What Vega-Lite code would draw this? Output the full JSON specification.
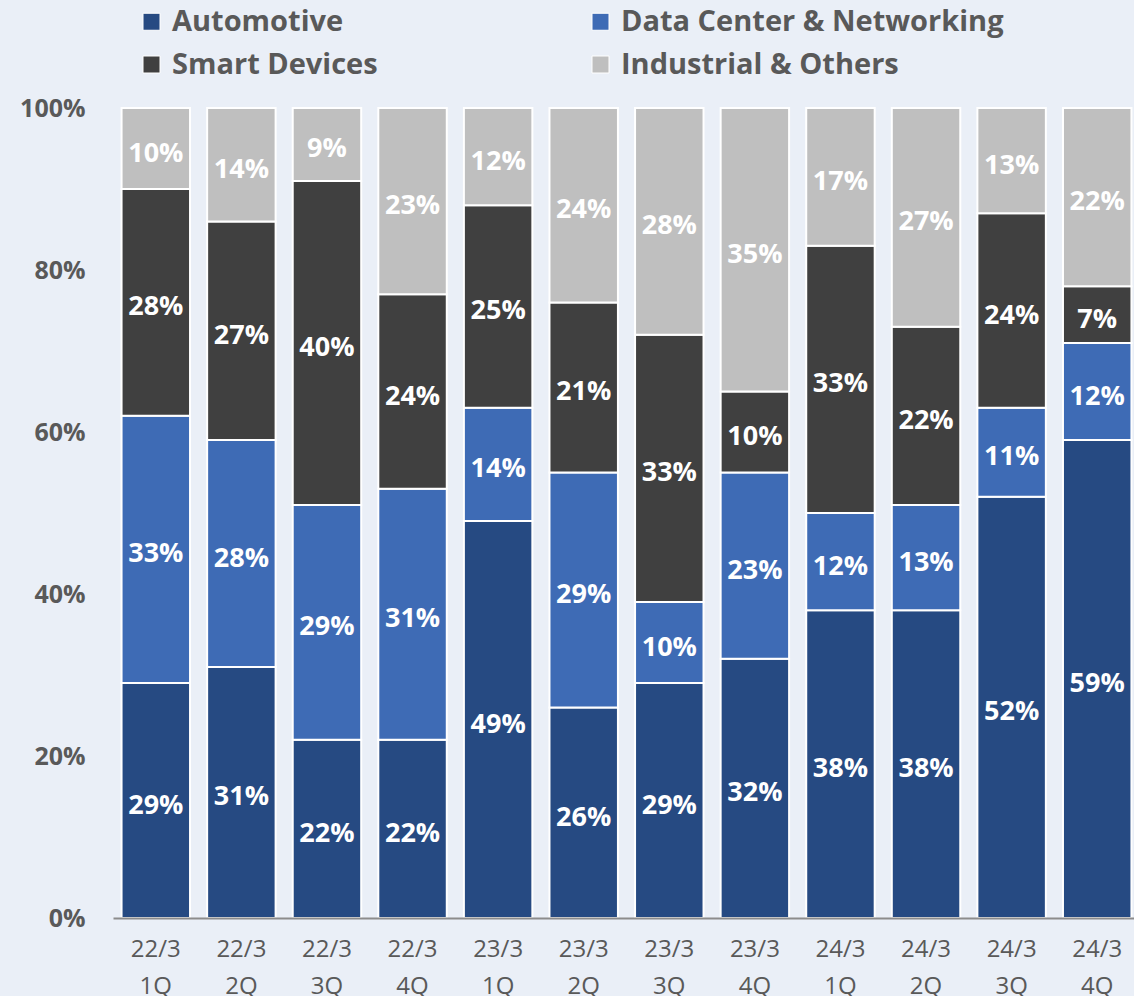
{
  "$schema": "https://vega.github.io/schema/vega-lite/v6.json",
  "width": 1027,
  "height": 810,
  "autosize": {"type": "none"},
  "padding": {"left": 113, "top": 108, "right": 0, "bottom": 78},
  "background": "#eaeff7",
  "config": {"view": {"stroke": null}, "font": "Open Sans"},
  "data": {
    "values": [
      {"quarter": "22/3 1Q", "segment": "Automotive", "share": 0.29},
      {"quarter": "22/3 1Q", "segment": "Data Center & Networking", "share": 0.33},
      {"quarter": "22/3 1Q", "segment": "Smart Devices", "share": 0.28},
      {"quarter": "22/3 1Q", "segment": "Industrial & Others", "share": 0.10},
      {"quarter": "22/3 2Q", "segment": "Automotive", "share": 0.31},
      {"quarter": "22/3 2Q", "segment": "Data Center & Networking", "share": 0.28},
      {"quarter": "22/3 2Q", "segment": "Smart Devices", "share": 0.27},
      {"quarter": "22/3 2Q", "segment": "Industrial & Others", "share": 0.14},
      {"quarter": "22/3 3Q", "segment": "Automotive", "share": 0.22},
      {"quarter": "22/3 3Q", "segment": "Data Center & Networking", "share": 0.29},
      {"quarter": "22/3 3Q", "segment": "Smart Devices", "share": 0.40},
      {"quarter": "22/3 3Q", "segment": "Industrial & Others", "share": 0.09},
      {"quarter": "22/3 4Q", "segment": "Automotive", "share": 0.22},
      {"quarter": "22/3 4Q", "segment": "Data Center & Networking", "share": 0.31},
      {"quarter": "22/3 4Q", "segment": "Smart Devices", "share": 0.24},
      {"quarter": "22/3 4Q", "segment": "Industrial & Others", "share": 0.23},
      {"quarter": "23/3 1Q", "segment": "Automotive", "share": 0.49},
      {"quarter": "23/3 1Q", "segment": "Data Center & Networking", "share": 0.14},
      {"quarter": "23/3 1Q", "segment": "Smart Devices", "share": 0.25},
      {"quarter": "23/3 1Q", "segment": "Industrial & Others", "share": 0.12},
      {"quarter": "23/3 2Q", "segment": "Automotive", "share": 0.26},
      {"quarter": "23/3 2Q", "segment": "Data Center & Networking", "share": 0.29},
      {"quarter": "23/3 2Q", "segment": "Smart Devices", "share": 0.21},
      {"quarter": "23/3 2Q", "segment": "Industrial & Others", "share": 0.24},
      {"quarter": "23/3 3Q", "segment": "Automotive", "share": 0.29},
      {"quarter": "23/3 3Q", "segment": "Data Center & Networking", "share": 0.10},
      {"quarter": "23/3 3Q", "segment": "Smart Devices", "share": 0.33},
      {"quarter": "23/3 3Q", "segment": "Industrial & Others", "share": 0.28},
      {"quarter": "23/3 4Q", "segment": "Automotive", "share": 0.32},
      {"quarter": "23/3 4Q", "segment": "Data Center & Networking", "share": 0.23},
      {"quarter": "23/3 4Q", "segment": "Smart Devices", "share": 0.10},
      {"quarter": "23/3 4Q", "segment": "Industrial & Others", "share": 0.35},
      {"quarter": "24/3 1Q", "segment": "Automotive", "share": 0.38},
      {"quarter": "24/3 1Q", "segment": "Data Center & Networking", "share": 0.12},
      {"quarter": "24/3 1Q", "segment": "Smart Devices", "share": 0.33},
      {"quarter": "24/3 1Q", "segment": "Industrial & Others", "share": 0.17},
      {"quarter": "24/3 2Q", "segment": "Automotive", "share": 0.38},
      {"quarter": "24/3 2Q", "segment": "Data Center & Networking", "share": 0.13},
      {"quarter": "24/3 2Q", "segment": "Smart Devices", "share": 0.22},
      {"quarter": "24/3 2Q", "segment": "Industrial & Others", "share": 0.27},
      {"quarter": "24/3 3Q", "segment": "Automotive", "share": 0.52},
      {"quarter": "24/3 3Q", "segment": "Data Center & Networking", "share": 0.11},
      {"quarter": "24/3 3Q", "segment": "Smart Devices", "share": 0.24},
      {"quarter": "24/3 3Q", "segment": "Industrial & Others", "share": 0.13},
      {"quarter": "24/3 4Q", "segment": "Automotive", "share": 0.59},
      {"quarter": "24/3 4Q", "segment": "Data Center & Networking", "share": 0.12},
      {"quarter": "24/3 4Q", "segment": "Smart Devices", "share": 0.07},
      {"quarter": "24/3 4Q", "segment": "Industrial & Others", "share": 0.22}
    ]
  },
  "transform": [
    {"calculate": "indexof(['Automotive','Data Center & Networking','Smart Devices','Industrial & Others'], datum.segment)", "as": "k"},
    {"stack": "share", "groupby": ["quarter"], "sort": [{"field": "k", "order": "ascending"}], "offset": "normalize", "as": ["s0", "s1"]},
    {"calculate": "(datum.s0 + datum.s1) / 2", "as": "mid"}
  ],
  "encoding": {
    "x": {
      "field": "quarter",
      "type": "nominal",
      "sort": null,
      "scale": {"paddingInner": 0.2, "paddingOuter": 0.1},
      "axis": {
        "title": null,
        "labelAngle": 0,
        "labelExpr": "split(datum.label, ' ')",
        "labelFontSize": 24,
        "labelColor": "#595959",
        "labelLineHeight": 37,
        "labelPadding": 19,
        "ticks": false,
        "domainColor": "#8c8c8c",
        "domainWidth": 2,
        "zindex": 1
      }
    }
  },
  "layer": [
    {
      "mark": {"type": "bar", "stroke": "white", "strokeWidth": 2},
      "encoding": {
        "y": {
          "field": "s0",
          "type": "quantitative",
          "scale": {"domain": [0, 1], "nice": false},
          "axis": {
            "title": null,
            "format": ".0%",
            "values": [0, 0.2, 0.4, 0.6, 0.8, 1],
            "grid": false,
            "domain": false,
            "ticks": false,
            "labelFontSize": 25,
            "labelFontWeight": "bold",
            "labelColor": "#595959",
            "labelPadding": 28
          }
        },
        "y2": {"field": "s1"},
        "color": {
          "field": "segment",
          "type": "nominal",
          "scale": {
            "domain": ["Automotive", "Data Center & Networking", "Smart Devices", "Industrial & Others"],
            "range": ["#264a82", "#3e6bb5", "#404040", "#bfbfbf"]
          },
          "legend": {
            "title": null,
            "orient": "none",
            "direction": "horizontal",
            "legendX": 24,
            "legendY": -101,
            "columns": 2,
            "columnPadding": 208,
            "rowPadding": 13,
            "padding": 0,
            "symbolType": "square",
            "symbolSize": 289,
            "symbolStrokeColor": "white",
            "symbolStrokeWidth": 1,
            "labelFontSize": 29,
            "labelFontWeight": "bold",
            "labelColor": "#595959",
            "labelOffset": 6,
            "labelLimit": 500
          }
        }
      }
    },
    {
      "mark": {"type": "text", "color": "white", "fontWeight": "bold", "fontSize": 27, "baseline": "middle", "dy": 5},
      "encoding": {
        "y": {"field": "mid", "type": "quantitative"},
        "text": {"field": "share", "type": "quantitative", "format": ".0%"}
      }
    }
  ]
}
